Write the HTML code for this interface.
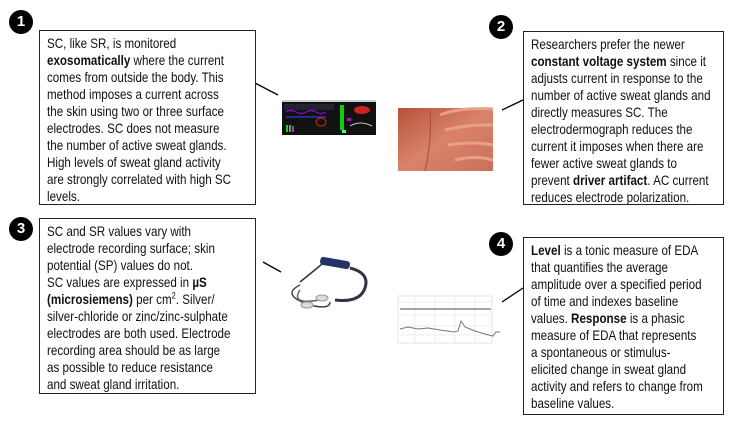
<!DOCTYPE html>
<html><head><meta charset="utf-8"><style>
html,body{margin:0;padding:0;background:#fff;}
body{width:750px;height:422px;position:relative;overflow:hidden;font-family:"Liberation Sans",sans-serif;}
.box{position:absolute;border:1.5px solid #222;box-sizing:border-box;background:#fff;}
.txt{position:absolute;left:7px;top:4px;font-size:14px;line-height:17px;color:#111;white-space:nowrap;transform:scaleX(0.83);transform-origin:0 0;}
.num{position:absolute;width:24px;height:24px;border-radius:50%;background:#000;color:#fff;font-weight:bold;font-size:15px;line-height:24px;text-align:center;}
b{font-weight:bold;}
</style></head><body>
<svg width="750" height="422" style="position:absolute;left:0;top:0">
<line x1="255" y1="83" x2="278" y2="95" stroke="#000" stroke-width="1.3"/>
<line x1="502" y1="110" x2="523" y2="100" stroke="#000" stroke-width="1.3"/>
<line x1="263" y1="262" x2="281" y2="272" stroke="#000" stroke-width="1.3"/>
<line x1="502" y1="302" x2="523" y2="288" stroke="#000" stroke-width="1.3"/>
<rect x="282" y="100" width="94" height="2" fill="#c8ccd4"/>
<rect x="282" y="102" width="94" height="33" fill="#111"/>
<rect x="284" y="104" width="50" height="6" fill="#223"/>
<path d="M286 112 q5 -3 10 0 t10 0 t10 0 t10 0" stroke="#a0f" fill="none"/>
<path d="M286 117 h40" stroke="#44f"/>
<ellipse cx="321" cy="122" rx="5" ry="4" stroke="#d22" fill="none"/>
<rect x="286" y="125" width="2" height="7" fill="#2c2"/><rect x="289" y="125" width="2" height="7" fill="#2c2"/><rect x="292" y="126" width="2" height="6" fill="#c2c"/>
<rect x="340" y="105" width="4" height="25" fill="#1c1"/>
<rect x="347" y="118" width="4" height="3" fill="#c0c"/>
<rect x="342" y="130" width="4" height="3" fill="#4f8"/>
<ellipse cx="362" cy="110" rx="8" ry="4" fill="#c22"/>
<path d="M350 126 q10 -6 22 0" stroke="#ccc" fill="none"/>
<defs><linearGradient id="h" x1="0" y1="0" x2="1" y2="1"><stop offset="0" stop-color="#b5533a"/><stop offset="0.5" stop-color="#d9836a"/><stop offset="1" stop-color="#c9705a"/></linearGradient></defs>
<rect x="398" y="108" width="95" height="63" fill="url(#h)"/>
<path d="M440 115 q20 -8 53 -6 M445 130 q25 -6 48 -5 M448 145 q25 -4 45 0 M455 160 q20 -5 38 0" stroke="#e8a08a" stroke-width="3" fill="none"/>
<path d="M430 110 q2 30 -5 61" stroke="#a84a35" fill="none"/>
<path d="M300 285 q-20 10 10 20 q20 5 20 -3" stroke="#444" stroke-width="1.5" fill="none"/>
<path d="M300 290 q-10 15 20 10" stroke="#666" stroke-width="1.5" fill="none"/>
<ellipse cx="322" cy="298" rx="6" ry="3" fill="#ddd" stroke="#999"/>
<ellipse cx="307" cy="305" rx="6" ry="3" fill="#ddd" stroke="#999"/>
<rect x="320" y="259" width="30" height="8" rx="3" fill="#223366" transform="rotate(10 335 263)"/>
<path d="M350 268 q20 5 15 20 q-5 15 -30 12" stroke="#334" stroke-width="3" fill="none"/>
<path d="M300 282 q15 -12 22 -18" stroke="#333" stroke-width="1.5" fill="none"/>
<rect x="398" y="296" width="94" height="47" fill="#fff" stroke="#e4e4e4"/>
<g stroke="#eee"><line x1="398" y1="302" x2="492" y2="302"/><line x1="398" y1="315" x2="492" y2="315"/><line x1="398" y1="326" x2="492" y2="326"/><line x1="398" y1="335" x2="492" y2="335"/>
<line x1="415" y1="296" x2="415" y2="343"/><line x1="435" y1="296" x2="435" y2="343"/><line x1="455" y1="296" x2="455" y2="343"/><line x1="475" y1="296" x2="475" y2="343"/></g>
<line x1="400" y1="309" x2="491" y2="309" stroke="#888" stroke-width="1.5"/>
<path d="M400 329 l8 -2 l10 2 l10 -1 l12 2 l14 2 l4 -1 l3 -10 l4 6 l10 4 l10 3 l8 2 l3 -4 l4 0" stroke="#777" fill="none"/>
</svg>

<div class="num" style="left:9px;top:10px">1</div>
<div class="box" style="left:39px;top:30px;width:217px;height:175px"><div class="txt">SC, like SR, is monitored<br><b>exosomatically</b> where the current<br>comes from outside the body. This<br>method imposes a current across<br>the skin using two or three surface<br>electrodes. SC does not measure<br>the number of active sweat glands.<br>High levels of sweat gland activity<br>are strongly correlated with high SC<br>levels.</div></div>

<div class="num" style="left:489px;top:15px">2</div>
<div class="box" style="left:523px;top:31px;width:201px;height:174px"><div class="txt">Researchers prefer the newer<br><b>constant voltage system</b> since it<br>adjusts current in response to the<br>number of active sweat glands and<br>directly measures SC. The<br>electrodermograph reduces the<br>current it imposes when there are<br>fewer active sweat glands to<br>prevent <b>driver artifact</b>. AC current<br>reduces electrode polarization.</div></div>

<div class="num" style="left:9px;top:217px">3</div>
<div class="box" style="left:39px;top:218px;width:217px;height:176px"><div class="txt">SC and SR values vary with<br>electrode recording surface; skin<br>potential (SP) values do not.<br>SC values are expressed in <b>µS</b><br><b>(microsiemens)</b> per cm<sup style="font-size:9px;line-height:0">2</sup>. Silver/<br>silver-chloride or zinc/zinc-sulphate<br>electrodes are both used. Electrode<br>recording area should be as large<br>as possible to reduce resistance<br>and sweat gland irritation.</div></div>

<div class="num" style="left:489px;top:232px">4</div>
<div class="box" style="left:523px;top:237px;width:201px;height:178px"><div class="txt"><b>Level</b> is a tonic measure of EDA<br>that quantifies the average<br>amplitude over a specified period<br>of time and indexes baseline<br>values. <b>Response</b> is a phasic<br>measure of EDA that represents<br>a spontaneous or stimulus-<br>elicited change in sweat gland<br>activity and refers to change from<br>baseline values.</div></div>
</body></html>
